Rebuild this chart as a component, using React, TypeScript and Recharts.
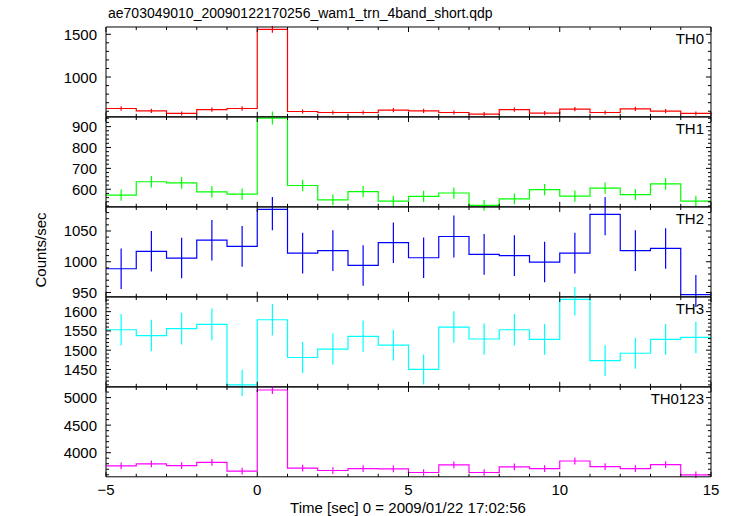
import { ComposedChart, Line, Scatter, ErrorBar, XAxis, YAxis } from 'recharts'

// bin centres (1 s bins)
const binCenters = [-4.5, -3.5, -2.5, -1.5, -0.5, 0.5, 1.5, 2.5, 3.5, 4.5, 5.5, 6.5, 7.5, 8.5, 9.5, 10.5, 11.5, 12.5, 13.5, 14.5]

const th0Rate = [632, 605, 574, 620, 632, 1558, 597, 585, 585, 612, 605, 585, 566, 620, 578, 624, 585, 628, 601, 574]
const th0Err = [25, 25, 24, 25, 25, 39, 24, 24, 24, 25, 25, 24, 24, 25, 24, 25, 24, 25, 24, 24]
const th1Rate = [572, 636, 631, 587, 577, 941, 618, 549, 589, 543, 566, 582, 523, 554, 598, 567, 605, 574, 626, 543]
const th1Err = [27, 28, 28, 27, 27, 31, 28, 26, 27, 26, 27, 27, 26, 26, 27, 27, 27, 27, 28, 26]
const th2Rate = [988.6, 1017, 1006, 1035, 1025, 1085, 1014, 1018, 994, 1031, 1006.5, 1041, 1012, 1010, 999.5, 1014, 1077, 1018, 1021.6, 946.5]
const th2Err = [33, 33, 33, 33, 33, 34, 33, 33, 33, 33, 33, 34, 33, 33, 33, 33, 34, 33, 33, 32]
const th3Rate = [1553, 1538, 1556, 1567, 1410, 1579, 1481, 1503, 1536, 1513, 1450, 1560, 1529, 1553, 1528, 1632, 1473, 1492, 1528, 1533]
const th3Err = [41, 41, 41, 41, 39, 41, 40, 40, 41, 40, 39, 41, 40, 41, 40, 42, 40, 40, 40, 41]
const th0123Rate = [3760, 3796, 3766, 3826, 3665, 5138, 3719, 3677, 3713, 3707, 3641, 3778, 3641, 3743, 3713, 3850, 3749, 3713, 3784, 3599]
const th0123Err = [61, 62, 61, 62, 61, 72, 61, 61, 61, 61, 60, 61, 60, 61, 61, 62, 61, 61, 62, 60]

const xTicks = [-5, -4, -3, -2, -1, 0, 1, 2, 3, 4, 5, 6, 7, 8, 9, 10, 11, 12, 13, 14, 15]
const xLabels = [-5, 0, 5, 10, 15]

const th0Ticks = [600, 700, 800, 900, 1000, 1100, 1200, 1300, 1400, 1500]
const th0Labels = [1000, 1500]
const th1Ticks = [520, 540, 560, 580, 600, 620, 640, 660, 680, 700, 720, 740, 760, 780, 800, 820, 840, 860, 880, 900, 920, 940]
const th1Labels = [600, 700, 800, 900]
const th2Ticks = [950, 960, 970, 980, 990, 1000, 1010, 1020, 1030, 1040, 1050, 1060, 1070, 1080]
const th2Labels = [950, 1000, 1050]
const th3Ticks = [1410, 1420, 1430, 1440, 1450, 1460, 1470, 1480, 1490, 1500, 1510, 1520, 1530, 1540, 1550, 1560, 1570, 1580, 1590, 1600, 1610, 1620, 1630]
const th3Labels = [1450, 1500, 1550, 1600]
const th0123Ticks = [3600, 3700, 3800, 3900, 4000, 4100, 4200, 4300, 4400, 4500, 4600, 4700, 4800, 4900, 5000, 5100]
const th0123Labels = [4000, 4500, 5000]

const W = 733
const PLOT_L = 106
const PLOT_R = 711
const PANEL_TOP = 27.3
const PANEL_H = 89.8
const PAD = 10
const FONT = '"Liberation Sans", Arial, Helvetica, sans-serif'

interface PanelProps {
  name: string
  color: string
  rate: number[]
  err: number[]
  domain: [number, number]
  ticks: number[]
  labels: number[]
  index: number
  last?: boolean
}

function Panel({ name, color, rate, err, domain, ticks, labels, index, last }: PanelProps) {
  const bottomH = PAD + (last ? 36 : 0)
  const height = PANEL_H + PAD + bottomH
  const plotTop = PAD
  const plotBottom = PAD + PANEL_H

  // histogram edges: each bin starts half a bin before its centre, last edge closes the final bin
  const steps = binCenters.map((c, i) => ({ x: c - 0.5, y: rate[i] }))
  steps.push({ x: binCenters[binCenters.length - 1] + 0.5, y: rate[rate.length - 1] })
  const points = binCenters.map((c, i) => ({ x: c, y: rate[i], e: err[i] }))

  const fmtX = (v: number) => (v < 0 ? '\u2212' + Math.abs(v) : String(v))

  // eslint-disable-next-line @typescript-eslint/no-explicit-any
  const bottomTick = (p: any) => {
    const x = p.payload.coordinate
    const major = xLabels.includes(p.payload.value)
    return (
      <g>
        <line x1={x} x2={x} y1={plotBottom} y2={plotBottom - (major ? 5 : 3)} stroke="#000" />
        {last && major && (
          <text x={x} y={plotBottom + 13} textAnchor="middle" dominantBaseline="central" fontSize={15} fontFamily={FONT} fill="#000">
            {fmtX(p.payload.value)}
          </text>
        )}
      </g>
    )
  }
  // eslint-disable-next-line @typescript-eslint/no-explicit-any
  const topTick = (p: any) => {
    const x = p.payload.coordinate
    const major = xLabels.includes(p.payload.value)
    return <line x1={x} x2={x} y1={plotTop} y2={plotTop + (major ? 5 : 3)} stroke="#000" />
  }
  // eslint-disable-next-line @typescript-eslint/no-explicit-any
  const leftTick = (p: any) => {
    const y = p.payload.coordinate
    const major = labels.includes(p.payload.value)
    return (
      <g>
        <line x1={PLOT_L} x2={PLOT_L + (major ? 5 : 3)} y1={y} y2={y} stroke="#000" />
        {major && (
          <text x={PLOT_L - 9} y={y} textAnchor="end" dominantBaseline="central" fontSize={15} fontFamily={FONT} fill="#000">
            {p.payload.value}
          </text>
        )}
      </g>
    )
  }
  // eslint-disable-next-line @typescript-eslint/no-explicit-any
  const rightTick = (p: any) => {
    const y = p.payload.coordinate
    const major = labels.includes(p.payload.value)
    return <line x1={PLOT_R} x2={PLOT_R - (major ? 5 : 3)} y1={y} y2={y} stroke="#000" />
  }

  return (
    <div style={{ position: 'absolute', left: 0, top: PANEL_TOP + index * PANEL_H - PAD }}>
      <ComposedChart width={W} height={height} margin={{ top: 0, right: 12, bottom: 0, left: 66 }}>
        <XAxis xAxisId="b" dataKey="x" type="number" domain={[-5, 15]} allowDataOverflow ticks={xTicks} interval={0}
          height={bottomH} tickLine={false} axisLine={{ stroke: '#000' }} tick={bottomTick} />
        <XAxis xAxisId="t" orientation="top" dataKey="x" type="number" domain={[-5, 15]} allowDataOverflow ticks={xTicks} interval={0}
          height={PAD} tickLine={false} axisLine={{ stroke: '#000' }} tick={topTick} />
        <YAxis yAxisId="l" dataKey="y" type="number" domain={domain} allowDataOverflow ticks={ticks} interval={0}
          width={40} tickLine={false} axisLine={{ stroke: '#000' }} tick={leftTick} />
        <YAxis yAxisId="r" orientation="right" dataKey="y" type="number" domain={domain} allowDataOverflow ticks={ticks} interval={0}
          width={10} tickLine={false} axisLine={{ stroke: '#000' }} tick={rightTick} />
        <Line xAxisId="b" yAxisId="l" data={steps} dataKey="y" type="stepAfter" stroke={color} strokeWidth={1.2}
          dot={false} activeDot={false} isAnimationActive={false} />
        <Scatter xAxisId="b" yAxisId="l" data={points} dataKey="y" shape={() => <g />} isAnimationActive={false}>
          <ErrorBar dataKey="e" direction="y" width={0} stroke={color} strokeWidth={1.2} isAnimationActive={false} />
        </Scatter>
      </ComposedChart>
      <div style={{ position: 'absolute', right: W - 704, top: PAD + 4, fontFamily: FONT, fontSize: 15, color: '#000', lineHeight: '16px' }}>
        {name}
      </div>
    </div>
  )
}

export default function App() {
  return (
    <div style={{ position: 'absolute', left: 0, top: 0, width: W, height: 516, background: '#fff', overflow: 'hidden' }}>
      <div style={{ position: 'absolute', left: 108, top: 5, fontFamily: FONT, fontSize: 14, lineHeight: '16px', color: '#000' }}>
        ae703049010_20090122170256_wam1_trn_4band_short.qdp
      </div>
      <Panel name="TH0" color="#ff0000" rate={th0Rate} err={th0Err} domain={[535, 1585]} ticks={th0Ticks} labels={th0Labels} index={0} />
      <Panel name="TH1" color="#00ff00" rate={th1Rate} err={th1Err} domain={[516, 946]} ticks={th1Ticks} labels={th1Labels} index={1} />
      <Panel name="TH2" color="#0000ff" rate={th2Rate} err={th2Err} domain={[943, 1089]} ticks={th2Ticks} labels={th2Labels} index={2} />
      <Panel name="TH3" color="#00ffff" rate={th3Rate} err={th3Err} domain={[1405, 1638]} ticks={th3Ticks} labels={th3Labels} index={3} />
      <Panel name="TH0123" color="#ff00ff" rate={th0123Rate} err={th0123Err} domain={[3563, 5192]} ticks={th0123Ticks} labels={th0123Labels} index={4} last />
      <div style={{ position: 'absolute', left: 41, top: 250, transform: 'translate(-50%, -50%) rotate(-90deg)', fontFamily: FONT, fontSize: 15, lineHeight: '16px', color: '#000', whiteSpace: 'nowrap' }}>
        Counts/sec
      </div>
      <div style={{ position: 'absolute', left: 408, top: 500, transform: 'translateX(-50%)', fontFamily: FONT, fontSize: 15, lineHeight: '16px', color: '#000', whiteSpace: 'nowrap' }}>
        Time [sec] 0 = 2009/01/22 17:02:56
      </div>
    </div>
  )
}
